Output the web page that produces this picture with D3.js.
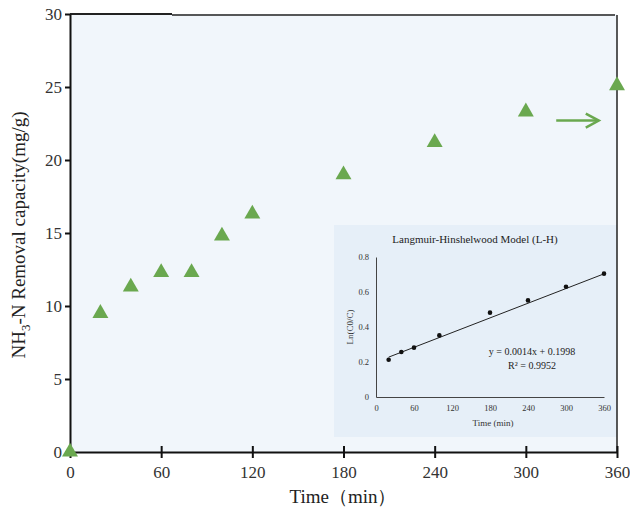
<!DOCTYPE html>
<html>
<head>
<meta charset="utf-8">
<script src="https://cdn.jsdelivr.net/npm/d3@7"></script>
<style>
  body { margin: 0; background: #fff; }
  svg { display: block; font-family: "Liberation Serif", "Times New Roman", serif; }
</style>
</head>
<body>
<div id="chart"></div>
<script>
// main series: removal capacity over time
var times = [0, 20, 40, 60, 80, 100, 120, 180, 240, 300, 360];
var capacity = [0, 9.5, 11.3, 12.3, 12.3, 14.8, 16.3, 19.0, 21.2, 23.3, 25.1];
var xTicks = [0, 60, 120, 180, 240, 300, 360];
var yTicks = [0, 5, 10, 15, 20, 25, 30];

// inset: L-H model
var insetTimes = [20, 40, 60, 100, 180, 240, 300, 360];
var lnRatio = [0.213, 0.257, 0.282, 0.352, 0.482, 0.552, 0.63, 0.705];
var insetYTicks = [0, 0.2, 0.4, 0.6, 0.8];
var fitSlope = 0.0014, fitIntercept = 0.1998;
var fitRange = [20, 360];

var W = 630, H = 511;
var green = "#6aa84f";

var svg = d3.select("#chart").append("svg")
	.attr("width", W)
	.attr("height", H);

var x = d3.scaleLinear().domain([0, 360]).range([70, 617]);
var y = d3.scaleLinear().domain([0, 30]).range([452, 14]);

// plot background
svg.append("rect")
	.attr("x", x(0)).attr("y", y(30))
	.attr("width", x(360) - x(0)).attr("height", y(0) - y(30))
	.attr("fill", "#f1f6fb");

// inset background
var inset = { left: 334, top: 225, right: 617, bottom: 437 };
svg.append("rect")
	.attr("x", inset.left).attr("y", inset.top)
	.attr("width", inset.right - inset.left).attr("height", inset.bottom - inset.top)
	.attr("fill", "#e6eff8");

// frame top / right
svg.append("line")
	.attr("x1", x(0)).attr("x2", 172).attr("y1", y(30)).attr("y2", y(30))
	.attr("stroke", "#222").attr("stroke-width", 2);
svg.append("line")
	.attr("x1", 172).attr("x2", x(360) - 2).attr("y1", y(30) + 1).attr("y2", y(30) + 1)
	.attr("stroke", "#222").attr("stroke-width", 1.5);
svg.append("line")
	.attr("x1", x(360)).attr("x2", x(360)).attr("y1", y(30) + 1).attr("y2", y(0))
	.attr("stroke", "#222").attr("stroke-width", 1.5);

// left axis
var yAxis = svg.append("g")
	.attr("transform", "translate(" + x(0) + ",0)")
	.call(d3.axisLeft(y).tickValues(yTicks).tickSize(5).tickPadding(3).tickSizeOuter(0));
yAxis.select(".domain").attr("stroke", "#111").attr("stroke-width", 2);
yAxis.selectAll(".tick line").attr("stroke", "#111").attr("stroke-width", 2);
yAxis.selectAll("text").attr("font-size", 17).attr("fill", "#333")
	.attr("font-family", "Liberation Serif");

// bottom axis, ticks crossing the line
var xAxis = svg.append("g")
	.attr("transform", "translate(0," + y(0) + ")")
	.call(d3.axisBottom(x).tickValues(xTicks).tickSize(6).tickPadding(8).tickSizeOuter(0));
xAxis.select(".domain").attr("stroke", "#111").attr("stroke-width", 2);
xAxis.selectAll(".tick line")
	.attr("y1", function(d) { return d === 0 ? 0 : -6; })
	.attr("stroke", "#111").attr("stroke-width", 2);
xAxis.selectAll("text").attr("font-size", 17).attr("fill", "#333")
	.attr("font-family", "Liberation Serif");

// axis titles
svg.append("text")
	.attr("x", 343).attr("y", 503)
	.attr("text-anchor", "middle")
	.attr("font-size", 19).attr("fill", "#222")
	.text("Time（min）");

var yt = svg.append("text")
	.attr("transform", "translate(25,235) rotate(-90)")
	.attr("text-anchor", "middle")
	.attr("font-size", 19).attr("fill", "#222");
yt.append("tspan").text("NH");
yt.append("tspan").attr("font-size", 13).attr("dy", 5).text("3");
yt.append("tspan").attr("dy", -5).text("-N Removal capacity(mg/g)");

// triangles
svg.selectAll(".pt")
	.data(times)
	.enter()
	.append("path")
	.attr("class", "pt")
	.attr("d", d3.symbol().type(d3.symbolTriangle).size(110))
	.attr("transform", function(d, i) { return "translate(" + x(d) + "," + y(capacity[i]) + ")"; })
	.attr("fill", green);

// arrow annotation
var ax0 = x(320), ax1 = x(348), ay = y(22.7);
svg.append("line")
	.attr("x1", ax0).attr("x2", ax1 - 2).attr("y1", ay).attr("y2", ay)
	.attr("stroke", green).attr("stroke-width", 2.5);
svg.append("path")
	.attr("d", "M" + (ax1 - 13) + "," + (ay - 7) + "L" + ax1 + "," + ay + "L" + (ax1 - 13) + "," + (ay + 7))
	.attr("fill", "none").attr("stroke", green).attr("stroke-width", 2.5);

// ---- inset chart ----
var ix = d3.scaleLinear().domain([0, 360]).range([376, 604]);
var iy = d3.scaleLinear().domain([0, 0.8]).range([397, 257]);

svg.append("text")
	.attr("x", 475).attr("y", 243)
	.attr("text-anchor", "middle")
	.attr("font-size", 11).attr("fill", "#222")
	.text("Langmuir-Hinshelwood Model (L-H)");

var ixAxis = svg.append("g")
	.attr("transform", "translate(0," + iy(0) + ")")
	.call(d3.axisBottom(ix).tickValues(xTicks).tickSize(0).tickPadding(8).tickSizeOuter(0));
ixAxis.select(".domain").attr("stroke", "#444").attr("stroke-width", 1);
ixAxis.selectAll("text").attr("font-size", 8.5).attr("fill", "#333")
	.attr("font-family", "Liberation Serif");

var iyAxis = svg.append("g")
	.attr("transform", "translate(" + ix(0) + ",0)")
	.call(d3.axisLeft(iy).tickValues(insetYTicks).tickSize(0).tickPadding(7).tickSizeOuter(0)
		.tickFormat(function(d) { return d === 0 ? "0" : d3.format(".1f")(d); }));
iyAxis.select(".domain").attr("stroke", "#444").attr("stroke-width", 1);
iyAxis.selectAll("text").attr("font-size", 8.5).attr("fill", "#333")
	.attr("font-family", "Liberation Serif");

svg.append("text")
	.attr("x", 493).attr("y", 426)
	.attr("text-anchor", "middle")
	.attr("font-size", 9).attr("fill", "#333")
	.text("Time (min)");

svg.append("text")
	.attr("transform", "translate(353,327) rotate(-90)")
	.attr("text-anchor", "middle")
	.attr("font-size", 9).attr("fill", "#333")
	.text("Ln(C0/C)");

// fit line
svg.append("line")
	.attr("x1", ix(fitRange[0])).attr("y1", iy(fitSlope * fitRange[0] + fitIntercept))
	.attr("x2", ix(fitRange[1])).attr("y2", iy(fitSlope * fitRange[1] + fitIntercept))
	.attr("stroke", "#222").attr("stroke-width", 1);

svg.selectAll(".ipt")
	.data(insetTimes)
	.enter()
	.append("circle")
	.attr("class", "ipt")
	.attr("cx", function(d) { return ix(d); })
	.attr("cy", function(d, i) { return iy(lnRatio[i]); })
	.attr("r", 2.3)
	.attr("fill", "#111");

svg.append("text")
	.attr("x", 532).attr("y", 355)
	.attr("text-anchor", "middle")
	.attr("font-size", 10).attr("fill", "#222")
	.text("y = 0.0014x + 0.1998");
svg.append("text")
	.attr("x", 532).attr("y", 369)
	.attr("text-anchor", "middle")
	.attr("font-size", 10).attr("fill", "#222")
	.text("R² = 0.9952");
</script>
</body>
</html>
